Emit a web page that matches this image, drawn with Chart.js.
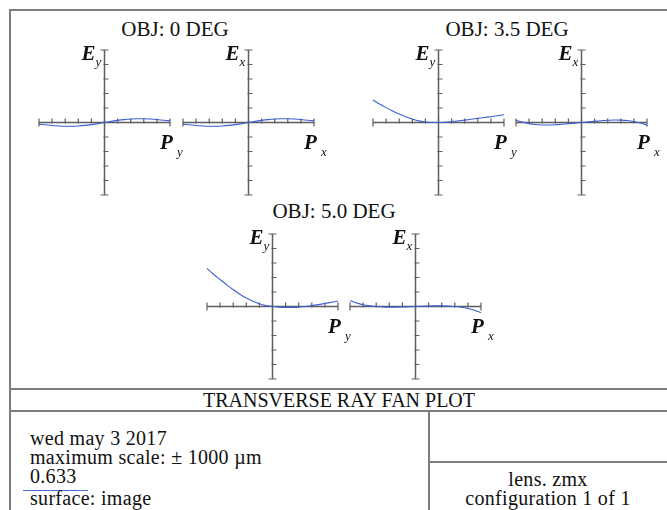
<!DOCTYPE html>
<html>
<head>
<meta charset="utf-8">
<title>Transverse Ray Fan Plot</title>
<script src="https://cdn.jsdelivr.net/npm/chart.js@4.4.1/dist/chart.umd.min.js"></script>
<style>
  html, body { margin: 0; padding: 0; background: #fff; }
  #page { position: relative; width: 667px; height: 510px; overflow: hidden; background: #fff;
          font-family: "Liberation Serif", "Times New Roman", serif; color: #111; }
  .rule { position: absolute; background: #7d7d7d; }
  .txt { position: absolute; white-space: nowrap; line-height: 1; }
  .lc { letter-spacing: 0.3px; }
  .ctr { transform: translateX(-50%); }
  canvas.fan { position: absolute; }
</style>
</head>
<body>
<div id="page">
  <!-- outer frame and title-block rules -->
  <div class="rule" style="left:9px;top:9px;width:660px;height:2px;"></div>
  <div class="rule" style="left:9px;top:9px;width:2px;height:510px;"></div>
  <div class="rule" style="left:9px;top:388px;width:660px;height:2px;"></div>
  <div class="rule" style="left:9px;top:410px;width:660px;height:2px;"></div>
  <div class="rule" style="left:428px;top:410px;width:2px;height:110px;"></div>
  <div class="rule" style="left:428px;top:461px;width:240px;height:2px;"></div>

  <div class="txt ctr" id="t0"   style="left:175px;top:19px;font-size:21px;"></div>
  <div class="txt ctr" id="t35"  style="left:507px;top:19px;font-size:21px;"></div>
  <div class="txt ctr" id="t50"  style="left:334px;top:201px;font-size:21px;"></div>

  <div class="txt ctr" style="left:339px;top:390px;font-size:20px;">TRANSVERSE RAY FAN PLOT</div>
  <div class="txt lc" style="left:30px;top:428px;font-size:20px;">wed may 3 2017</div>
  <div class="txt lc" style="left:30px;top:447px;font-size:20px;">maximum scale: ± 1000 µm</div>
  <div class="txt lc" style="left:30px;top:466px;font-size:20px;">0.633</div>
  <div class="rule" style="left:23px;top:490px;width:65px;height:1px;background:#4a6ad6;"></div>
  <div class="txt lc" style="left:30px;top:488px;font-size:20px;">surface: image</div>
  <div class="txt ctr lc" style="left:548px;top:469px;font-size:20px;">lens. zmx</div>
  <div class="txt ctr lc" style="left:548px;top:488px;font-size:20px;">configuration 1 of 1</div>
</div>

<script>
// Normalised pupil coordinate samples (Py or Px)
const pupilCoords = [-1.0, -0.9, -0.8, -0.7, -0.6, -0.5, -0.4, -0.3, -0.2, -0.1, 0.0,
                      0.1,  0.2,  0.3,  0.4,  0.5,  0.6,  0.7,  0.8,  0.9, 1.0];

// Tick positions on the pupil axis and on the aberration axis (µm)
const pupilTicks = [-1, -0.8, -0.6, -0.4, -0.2, 0, 0.2, 0.4, 0.6, 0.8, 1];
const errorTicks = [-1000, -800, -600, -400, -200, 0, 200, 400, 600, 800, 1000];
const maxScale = 1000;

// Field titles
const fieldTitles = ["OBJ: 0 DEG", "OBJ: 3.5 DEG", "OBJ: 5.0 DEG"];

// Transverse ray error, µm, for each field: tangential (Ey vs Py) and sagittal (Ex vs Px)
const ey0deg  = [-23, -32, -41, -48, -52, -52, -48, -40, -29, -15, 0,
                  15,  29,  40,  48,  52,  52,  48,  41,  32, 23];
const ex0deg  = [-23, -32, -41, -48, -52, -52, -48, -40, -29, -15, 0,
                  15,  29,  40,  48,  52,  52,  48,  41,  32, 23];
const ey35deg = [310, 255, 205, 160, 118, 80, 48, 22, 6, 0, 0,
                  4,  12,  22,  33,  45,  57, 68, 80, 93, 107];
const ex35deg = [32, 5, -15, -28, -34, -35, -31, -24, -16, -8, 0,
                  8, 16,  24,  30,  34,  33,  27,  14,  -8, -37];
const ey50deg = [525, 445, 372, 300, 232, 170, 117, 72, 38, 12, 0,
                  -8, -12, -12,  -8,   0,  12,  26, 42, 58, 75];
const ex50deg = [80, 50, 25, 10, 0, -5, -8, -8, -6, -3, 0,
                  3,  6,  8,  8, 5,  0, -10, -27, -52, -85];

// Plot placement: centre of each fan plot on the page
const panels = [
  { values: ey0deg,  cx: 104, cy: 122, err: "E", errSub: "y", pup: "P", pupSub: "y" },
  { values: ex0deg,  cx: 248, cy: 122, err: "E", errSub: "x", pup: "P", pupSub: "x" },
  { values: ey35deg, cx: 438, cy: 122, err: "E", errSub: "y", pup: "P", pupSub: "y" },
  { values: ex35deg, cx: 581, cy: 122, err: "E", errSub: "x", pup: "P", pupSub: "x" },
  { values: ey50deg, cx: 272, cy: 306, err: "E", errSub: "y", pup: "P", pupSub: "y" },
  { values: ex50deg, cx: 415, cy: 306, err: "E", errSub: "x", pup: "P", pupSub: "x" }
];

document.getElementById("t0").textContent = fieldTitles[0];
document.getElementById("t35").textContent = fieldTitles[1];
document.getElementById("t50").textContent = fieldTitles[2];

const AREA_W = 131, AREA_H = 145;
const PAD = { left: 28, right: 28, top: 18, bottom: 22 };
const CANVAS_W = AREA_W + PAD.left + PAD.right;
const CANVAS_H = AREA_H + PAD.top + PAD.bottom;
const AXIS_COLOR = "#5e5e5e";

// Draws cross-shaped axes through the origin with tick marks, plus axis labels
const crossAxes = {
  id: "crossAxes",
  beforeDatasetsDraw(chart) {
    const ctx = chart.ctx, xs = chart.scales.x, ys = chart.scales.y;
    const x0 = xs.getPixelForValue(0), y0 = ys.getPixelForValue(0);
    const xl = xs.getPixelForValue(pupilTicks[0]), xr = xs.getPixelForValue(pupilTicks[pupilTicks.length - 1]);
    const yt = ys.getPixelForValue(errorTicks[errorTicks.length - 1]), yb = ys.getPixelForValue(errorTicks[0]);
    ctx.save();
    ctx.strokeStyle = AXIS_COLOR;
    ctx.lineWidth = 1.5;
    ctx.lineCap = "butt";
    ctx.beginPath();
    ctx.moveTo(xl, y0); ctx.lineTo(xr, y0);
    ctx.moveTo(x0, yt); ctx.lineTo(x0, yb);
    ctx.stroke();
    ctx.lineWidth = 1.2;
    ctx.beginPath();
    pupilTicks.forEach((t, i) => {
      const px = xs.getPixelForValue(t);
      const end = (i === 0 || i === pupilTicks.length - 1);
      ctx.moveTo(px, y0 - 4);
      ctx.lineTo(px, y0 + (end ? 4 : 1));
    });
    errorTicks.forEach((t, i) => {
      const py = ys.getPixelForValue(t);
      const end = (i === 0 || i === errorTicks.length - 1);
      ctx.moveTo(x0 - (end ? 4 : 1), py);
      ctx.lineTo(x0 + 4, py);
    });
    ctx.stroke();
    ctx.restore();
  },
  afterDraw(chart, args, opts) {
    const ctx = chart.ctx, xs = chart.scales.x, ys = chart.scales.y;
    const x0 = xs.getPixelForValue(0), y0 = ys.getPixelForValue(0);
    const xr = xs.getPixelForValue(1), yt = ys.getPixelForValue(maxScale);
    ctx.save();
    ctx.fillStyle = "#111";
    ctx.textBaseline = "alphabetic";
    // error axis label, to the left of the top of the vertical axis
    ctx.font = 'italic bold 21px "Liberation Serif"';
    ctx.textAlign = "right";
    ctx.fillText(opts.err, x0 - 9, yt + 10);
    ctx.font = 'italic 13px "Liberation Serif"';
    ctx.textAlign = "left";
    ctx.fillText(opts.errSub, x0 - 9, yt + 16);
    // pupil axis label, below the right end of the horizontal axis
    ctx.font = 'italic bold 21px "Liberation Serif"';
    ctx.fillText(opts.pup, xr - 10, y0 + 26);
    ctx.font = 'italic 13px "Liberation Serif"';
    ctx.fillText(opts.pupSub, xr + 7, y0 + 33);
    ctx.restore();
  }
};

panels.forEach(p => {
  const cv = document.createElement("canvas");
  cv.className = "fan";
  cv.width = CANVAS_W; cv.height = CANVAS_H;
  cv.style.width = CANVAS_W + "px"; cv.style.height = CANVAS_H + "px";
  cv.style.left = (p.cx - AREA_W / 2 - PAD.left) + "px";
  cv.style.top = (p.cy - AREA_H / 2 - PAD.top) + "px";
  document.getElementById("page").appendChild(cv);

  new Chart(cv, {
    type: "line",
    data: {
      datasets: [{
        data: pupilCoords.map((x, i) => ({ x: x, y: p.values[i] })),
        borderColor: "#3d5fd2",
        borderWidth: 1.1,
        pointRadius: 0,
        tension: 0.4,
        fill: false,
        clip: false
      }]
    },
    options: {
      responsive: false,
      animation: false,
      devicePixelRatio: 1,
      layout: { padding: PAD },
      plugins: {
        legend: { display: false },
        tooltip: { enabled: false },
        crossAxes: { err: p.err, errSub: p.errSub, pup: p.pup, pupSub: p.pupSub }
      },
      scales: {
        x: { type: "linear", min: -1, max: 1, display: false },
        y: { type: "linear", min: -maxScale, max: maxScale, display: false }
      }
    },
    plugins: [crossAxes]
  });
});
</script>
</body>
</html>
